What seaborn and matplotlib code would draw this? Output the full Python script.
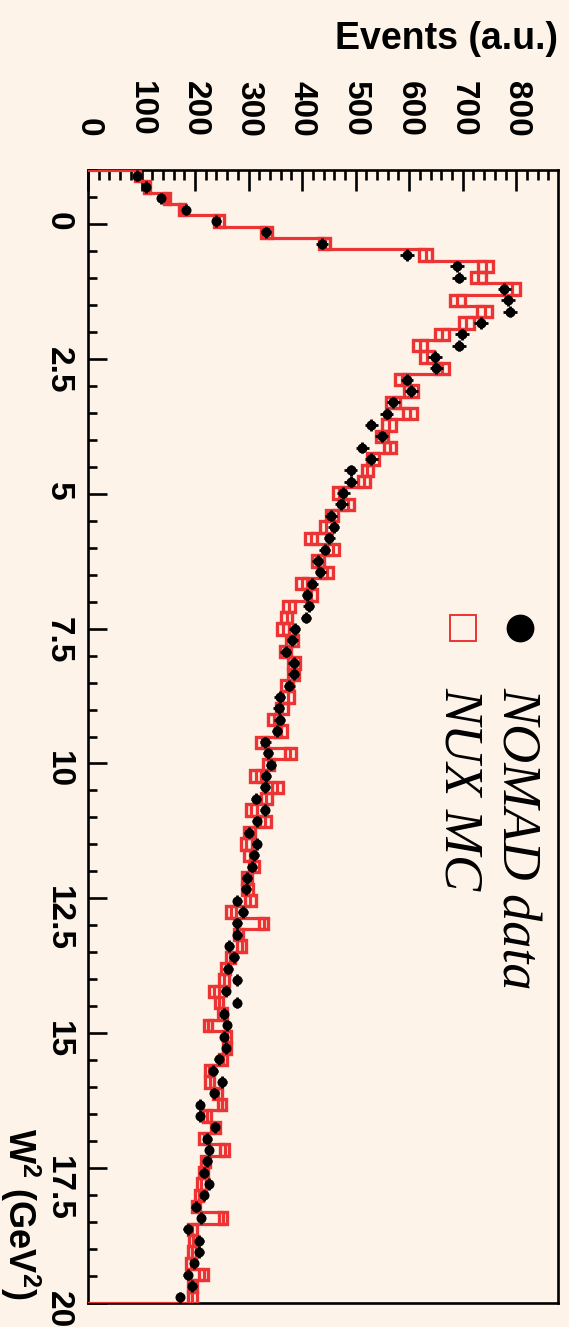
import numpy as np
import pandas as pd
import matplotlib
matplotlib.use("Agg")
import matplotlib.pyplot as plt
import seaborn as sns
from matplotlib.ticker import MultipleLocator, FixedLocator

# ---------------- data ----------------
w2_range = (-1.0, 20.0)
n_bins = 100

data_vals = [91, 108, 136, 183, 240, 332, 437, 596, 690, 693,
             778, 784, 789, 734, 698, 693, 649, 651, 596, 604,
             570, 558, 529, 549, 512, 529, 491, 491, 477, 473,
             454, 459, 451, 442, 429, 434, 419, 409, 412, 407,
             386, 382, 369, 384, 384, 376, 358, 356, 358, 353,
             331, 336, 342, 333, 331, 314, 330, 315, 300, 315,
             310, 306, 297, 295, 279, 289, 278, 279, 264, 273,
             262, 279, 257, 278, 254, 260, 254, 258, 244, 234,
             251, 236, 209, 209, 237, 223, 226, 223, 216, 226,
             217, 201, 211, 186, 208, 208, 198, 186, 195, 172]

data_err = [5, 5, 6, 7, 8, 9, 11, 13, 13, 13,
            13, 13, 13, 13, 13, 13, 13, 13, 12, 12,
            12, 12, 12, 12, 12, 12, 12, 12, 12, 12,
            12, 10, 10, 10, 10, 10, 10, 10, 10, 10,
            10, 10, 10, 10, 10, 10, 10, 10, 10, 10,
            10, 9, 9, 9, 9, 9, 9, 9, 9, 9,
            9, 9, 9, 9, 9, 9, 9, 9, 9, 9,
            9, 9, 9, 8, 8, 8, 8, 8, 8, 8,
            8, 8, 8, 8, 8, 8, 8, 8, 8, 8,
            8, 8, 8, 8, 8, 8, 8, 8, 8, 8]

mc_vals = [93, 110, 148, 176, 245, 333, 442, 631, 743, 729,
           793, 690, 741, 707, 661, 621, 634, 661, 587, 603,
           569, 602, 562, 549, 564, 532, 522, 515, 469, 485,
           456, 445, 416, 457, 429, 447, 399, 417, 376, 371,
           365, 381, 369, 385, 384, 372, 373, 363, 348, 360,
           325, 378, 337, 313, 354, 333, 305, 331, 302, 296,
           302, 310, 297, 298, 303, 267, 328, 281, 287, 266,
           257, 254, 235, 245, 251, 224, 260, 260, 252, 226,
           227, 242, 250, 222, 238, 216, 255, 219, 216, 212,
           207, 202, 252, 195, 196, 194, 192, 216, 195, 195]

mc_err = [5, 5, 6, 6, 9, 10, 10, 12, 14, 14,
          14, 14, 14, 14, 13, 13, 13, 13, 13, 13,
          13, 13, 13, 11, 11, 11, 11, 11, 11, 11,
          11, 11, 11, 11, 11, 11, 11, 11, 11, 11,
          11, 11, 11, 11, 11, 11, 11, 11, 11, 11,
          11, 10, 10, 10, 10, 10, 10, 10, 10, 10,
          10, 10, 10, 10, 10, 9, 9, 9, 9, 9,
          9, 9, 9, 8, 8, 8, 8, 8, 8, 8,
          8, 8, 8, 8, 8, 8, 8, 8, 8, 8,
          8, 8, 8, 8, 8, 8, 8, 8, 8, 8]

legend_labels = ["NOMAD data", "NUX MC"]
events_label = "Events (a.u.)"
w2_label = r"W$^2$ (GeV$^2$)"
event_ticks = [0, 100, 200, 300, 400, 500, 600, 700, 800]
w2_ticks = [0, 2.5, 5, 7.5, 10, 12.5, 15, 17.5, 20]
w2_tick_labels = ["0", "2.5", "5", "7.5", "10", "12.5", "15", "17.5", "20"]
events_max = 878

# ---------------- style ----------------
BG = "#fdf3e9"
RED = "#ec3434"

sns.set_style("ticks")
plt.rcParams["font.family"] = ["Liberation Sans", "DejaVu Sans"]
plt.rcParams["font.weight"] = "bold"
plt.rcParams["mathtext.default"] = "regular"

W, H = 569, 1327
fig = plt.figure(figsize=(W / 100, H / 100), dpi=100, facecolor=BG)
ax = fig.add_axes([88 / W, 1 - 1303 / H, 470 / W, 1133 / H])
ax.set_facecolor(BG)

edges = np.linspace(w2_range[0], w2_range[1], n_bins + 1)
centers = 0.5 * (edges[:-1] + edges[1:])
bw = edges[1] - edges[0]

data = np.array(data_vals, float)
derr = np.array(data_err, float)
mc = np.array(mc_vals, float)
merr = np.array(mc_err, float)

# MC error boxes
ax.barh(centers, 2 * merr, left=mc - merr, height=bw, fill=False,
        edgecolor=RED, linewidth=2.4, zorder=3)

# MC histogram steps (rotated: events on x, W2 on y)
step_x = np.concatenate([[0.0], np.repeat(mc, 2), [0.0]])
step_y = np.concatenate([[edges[0]],
                         np.column_stack([edges[:-1], edges[1:]]).ravel(),
                         [edges[-1]]])
steps = pd.DataFrame({"events": step_x, "w2": step_y})
sns.lineplot(data=steps, x="events", y="w2", sort=False, estimator=None,
             color=RED, linewidth=2.3, ax=ax, zorder=4)

# data points with errors
ax.errorbar(data, centers, xerr=derr, yerr=bw / 2, fmt="none",
            ecolor="black", elinewidth=2.0, capsize=0, zorder=5)
pts = pd.DataFrame({"events": data, "w2": centers})
sns.scatterplot(data=pts, x="events", y="w2", color="black", s=52,
                edgecolor="black", linewidth=0, ax=ax, zorder=6)

# axes
ax.set_xlim(0, events_max)
ax.set_ylim(w2_range[1], w2_range[0])
ax.set_xlabel("")
ax.set_ylabel("")
ax.xaxis.tick_top()
ax.xaxis.set_major_locator(FixedLocator(event_ticks))
ax.xaxis.set_minor_locator(MultipleLocator(20))
ax.set_xticklabels([str(t) for t in event_ticks])
ax.yaxis.set_major_locator(FixedLocator(w2_ticks))
ax.yaxis.set_minor_locator(MultipleLocator(0.5))
ax.set_yticklabels(w2_tick_labels)

ax.tick_params(axis="x", which="both", direction="in", top=True, bottom=False,
               labeltop=True, labelbottom=False, width=1.9, labelrotation=-90,
               labelsize=24, pad=24, colors="black")
ax.tick_params(axis="x", which="major", length=15)
ax.tick_params(axis="x", which="minor", length=7.5)
ax.tick_params(axis="y", which="both", direction="in", left=True, right=False,
               labelleft=True, labelright=False, width=1.9, labelrotation=-90,
               labelsize=24, pad=10, colors="black")
ax.tick_params(axis="y", which="major", length=14)
ax.tick_params(axis="y", which="minor", length=6.5)
for lab in ax.get_xticklabels() + ax.get_yticklabels():
    lab.set_fontweight("bold")
for sp in ax.spines.values():
    sp.set_linewidth(1.9)
    sp.set_color("black")
    sp.set_zorder(2)

# axis titles
fig.text(558 / W, 1 - 49 / H, events_label, ha="right", va="baseline",
         fontsize=27, fontweight="bold", color="black")
fig.text(8 / W, 1 - 1300 / H, w2_label, rotation=-90, rotation_mode="anchor",
         ha="right", va="baseline", fontsize=26, fontweight="bold", color="black")

# legend (drawn rotated like the rest)
def ax_x(px):
    return (px - 88) / 470.0

def ax_y(py):
    return (1303 - py) / 1133.0

ax.plot([ax_x(520)], [ax_y(628)], "o", transform=ax.transAxes, ms=19,
        color="black", clip_on=False, zorder=7)
ax.plot([ax_x(463)], [ax_y(628)], "s", transform=ax.transAxes, ms=19,
        mfc="none", mec=RED, mew=1.4, clip_on=False, zorder=7)
for lab, base_px in zip(legend_labels, [503, 446]):
    ax.text(ax_x(base_px), ax_y(687), lab, transform=ax.transAxes,
            rotation=-90, rotation_mode="anchor", ha="left", va="baseline",
            fontsize=39, family=["Liberation Serif", "DejaVu Serif"],
            style="italic", fontweight="normal", color="black", zorder=7)

fig.savefig("out.png", dpi=100, facecolor=BG)
